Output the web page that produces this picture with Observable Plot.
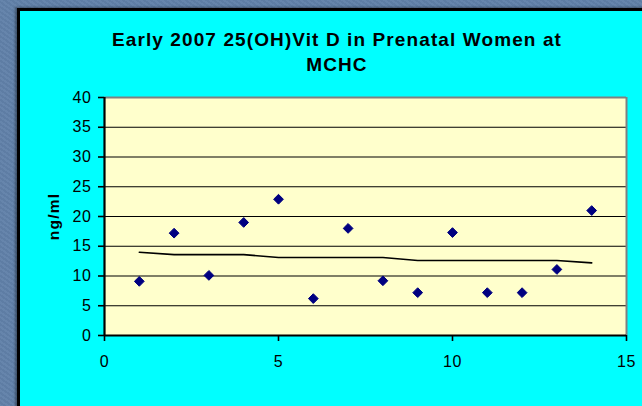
<!DOCTYPE html>
<html>
<head>
<meta charset="utf-8">
<script src="https://cdn.jsdelivr.net/npm/d3@7"></script>
<script src="https://cdn.jsdelivr.net/npm/@observablehq/plot@0.6"></script>
<style>
  html, body { margin: 0; padding: 0; }
  body {
    width: 642px; height: 406px; overflow: hidden; position: relative;
    background: #6181a9;
    background-image:
      repeating-linear-gradient(35deg, rgba(255,255,255,0.03) 0 2px, rgba(0,0,0,0.03) 2px 4px);
  }
  #panel {
    position: absolute; left: 17px; top: 8px; width: 700px; height: 500px;
    background: #00ffff;
    border-left: 3px solid #000; border-top: 3px solid #000;
    box-shadow: -2px -1px 2px rgba(0,0,0,0.35);
  }
  #title {
    position: absolute; left: 37px; top: 26.5px; width: 600px;
    text-align: center;
    font-family: "Liberation Sans", Arial, sans-serif;
    font-weight: bold; font-size: 19px; line-height: 25.7px;
    letter-spacing: 1.1px; color: #000;
  }
  #chart { position: absolute; left: 0; top: 0; }
  #chart g[aria-label="y-axis tick label"] text,
  #chart g[aria-label="x-axis tick label"] text { letter-spacing: 0.6px; }
  #chart g[aria-label="text"] text { letter-spacing: 1.2px; }
</style>
</head>
<body>
<div id="panel"></div>
<div id="title">Early 2007 25(OH)Vit D in Prenatal Women at<br>MCHC</div>
<div id="chart"></div>
<script>
// Sample order and measured 25(OH) vitamin D (ng/ml)
const sample = [1, 2, 3, 4, 5, 6, 7, 8, 9, 10, 11, 12, 13, 14];
const vitD = [9.1, 17.2, 10.1, 19.0, 22.9, 6.2, 18.0, 9.2, 7.2, 17.3, 7.2, 7.2, 11.1, 21.0];
// Trend line drawn through the samples
const trend = [14.0, 13.6, 13.6, 13.6, 13.1, 13.1, 13.1, 13.1, 12.6, 12.6, 12.6, 12.6, 12.6, 12.2];
const xTicks = [0, 5, 10, 15];
const yTicks = [0, 5, 10, 15, 20, 25, 30, 35, 40];
const gridLines = [5, 10, 15, 20, 25, 30, 35];
const yLabel = "ng/ml";

const points = sample.map((s, i) => ({ s, v: vitD[i], t: trend[i] }));

const chart = Plot.plot({
  width: 642,
  height: 406,
  marginLeft: 104,
  marginRight: 16,
  marginTop: 97,
  marginBottom: 71,
  style: {
    background: "transparent",
    fontFamily: "'Liberation Sans', Arial, sans-serif",
    fontSize: "16px",
    color: "#000"
  },
  x: { domain: [0, 15] },
  y: { domain: [0, 40] },
  marks: [
    Plot.frame({ fill: "#ffffcc", stroke: null }),
    Plot.ruleY(gridLines, { stroke: "#000", strokeWidth: 1.2 }),
    Plot.ruleY([40], { stroke: "#808080", strokeWidth: 2 }),
    Plot.ruleX([15], { stroke: "#808080", strokeWidth: 2 }),
    Plot.axisY({ ticks: yTicks, tickSize: 6, tickPadding: 7, strokeWidth: 1.6, label: null }),
    Plot.axisX({ ticks: xTicks, tickSize: 6, tickPadding: 14, strokeWidth: 1.6, label: null }),
    Plot.ruleX([0], { stroke: "#000", strokeWidth: 2.2 }),
    Plot.ruleY([0], { stroke: "#000", strokeWidth: 2.2 }),
    Plot.line(points, { x: "s", y: "t", stroke: "#000", strokeWidth: 1.6 }),
    Plot.dot(points, { x: "s", y: "v", symbol: "diamond2", r: 4.4, fill: "#000080", stroke: "#000080", strokeWidth: 1, strokeLinejoin: "round" }),
    Plot.text([yLabel], {
      frameAnchor: "left", dx: -50, rotate: -90, text: d => d, fill: "#000",
      textAnchor: "middle", lineAnchor: "middle", fontSize: 15.5, fontWeight: "bold"
    })
  ]
});

document.getElementById("chart").appendChild(chart);
</script>
</body>
</html>
